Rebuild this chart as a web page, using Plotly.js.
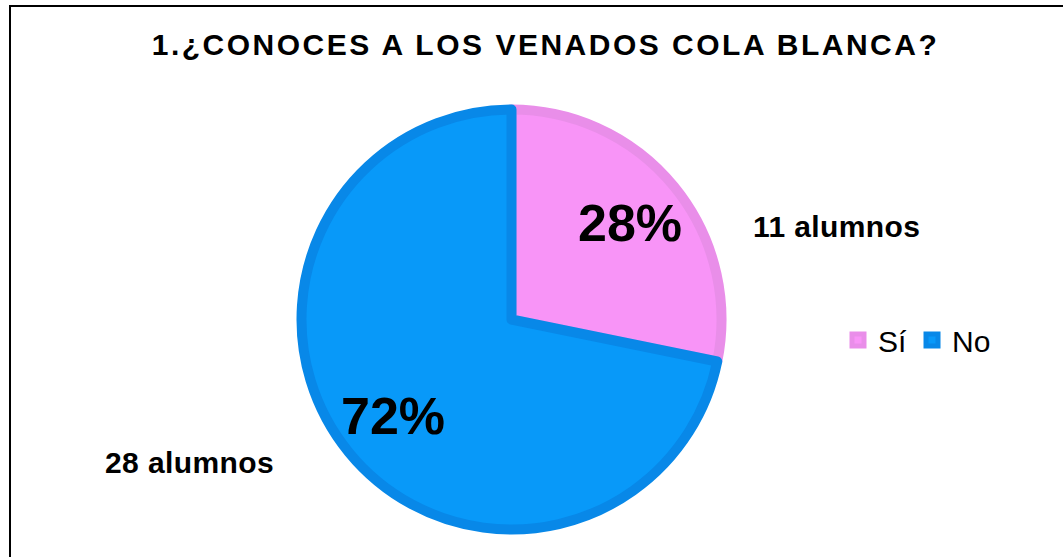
<!DOCTYPE html>
<html>
<head>
<meta charset="utf-8">
<script src="https://cdn.plot.ly/plotly-3.0.1.min.js"></script>
<style>
  html, body { margin: 0; padding: 0; background: #fff; }
  #chart { width: 1063px; height: 557px; }
</style>
</head>
<body>
<div id="chart"></div>
<script>
// datos de la pregunta 1
const respuestas = ["Sí", "No"];
const alumnos = [11, 28];
const coloresRelleno = ["#f894f7", "#0899f9"];
const coloresBorde = ["#e98ee9", "#0888e8"];
const tituloGrafico = "1.¿CONOCES A LOS VENADOS COLA BLANCA?";

const W = 1063, H = 557;
const FONT = "Liberation Sans, Arial, sans-serif";
// centro y radio del pastel en pixeles
const cx = 511.5, cy = 319.5, R = 210;

const total = alumnos.reduce((a, b) => a + b, 0);
const porcentajes = alumnos.map((v) => Math.round((v / total) * 100) + "%");

// etiquetas de porcentaje sobre la bisectriz de cada rebanada (sentido horario desde arriba)
let acumulado = 0;
const etiquetasPct = alumnos.map((v, i) => {
  const medio = ((acumulado + v / 2) / total) * 2 * Math.PI;
  acumulado += v;
  const r = 0.73 * R;
  return {
    text: "<b>" + porcentajes[i] + "</b>",
    x: (cx + r * Math.sin(medio)) / W,
    y: 1 - (cy - r * Math.cos(medio)) / H,
    xref: "paper", yref: "paper",
    xanchor: "center", yanchor: "middle",
    showarrow: false,
    font: { family: FONT, size: 52, color: "#000" },
  };
});

// etiquetas de cantidad (colocadas a mano como en el original)
const posAlumnos = [[836, 226], [189, 462]];
const etiquetasAlumnos = alumnos.map((v, i) => ({
  text: '<b><span style="letter-spacing:0.4px">' + v + " alumnos</span></b>",
  x: posAlumnos[i][0] / W,
  y: 1 - posAlumnos[i][1] / H,
  xref: "paper", yref: "paper",
  xanchor: "center", yanchor: "middle",
  showarrow: false,
  font: { family: FONT, size: 30, color: "#000" },
}));

const trace = {
  type: "pie",
  labels: respuestas,
  values: alumnos,
  sort: false,
  direction: "clockwise",
  rotation: 0,
  textinfo: "none",
  hoverinfo: "label+value+percent",
  marker: { colors: coloresRelleno, line: { color: coloresBorde, width: 10 } },
  domain: {
    x: [(cx - R) / W, (cx + R) / W],
    y: [1 - (cy + R) / H, 1 - (cy - R) / H],
  },
};

Plotly.newPlot(
  "chart",
  [trace],
  {
    width: W,
    height: H,
    margin: { t: 0, b: 0, l: 0, r: 0 },
    paper_bgcolor: "#fff",
    font: { family: FONT, color: "#000" },
    title: {
      text: '<b><span style="letter-spacing:2.5px">' + tituloGrafico + "</span></b>",
      font: { family: FONT, size: 30, color: "#000" },
      x: 545.5 / W, xanchor: "center", xref: "paper",
      y: 1 - 44 / H, yanchor: "middle", yref: "container",
    },
    showlegend: true,
    legend: {
      orientation: "h",
      x: 838 / W, xanchor: "left",
      y: 1 - 340 / H, yanchor: "middle",
      font: { family: FONT, size: 30, color: "#000" },
      bgcolor: "rgba(0,0,0,0)",
    },
    annotations: etiquetasPct.concat(etiquetasAlumnos),
    shapes: [
      {
        type: "rect", xref: "paper", yref: "paper",
        x0: 10 / W, x1: 1.02, y0: -0.05, y1: 1 - 6 / H,
        line: { color: "#000", width: 2 },
      },
    ],
  },
  { displayModeBar: false }
);
</script>
</body>
</html>
